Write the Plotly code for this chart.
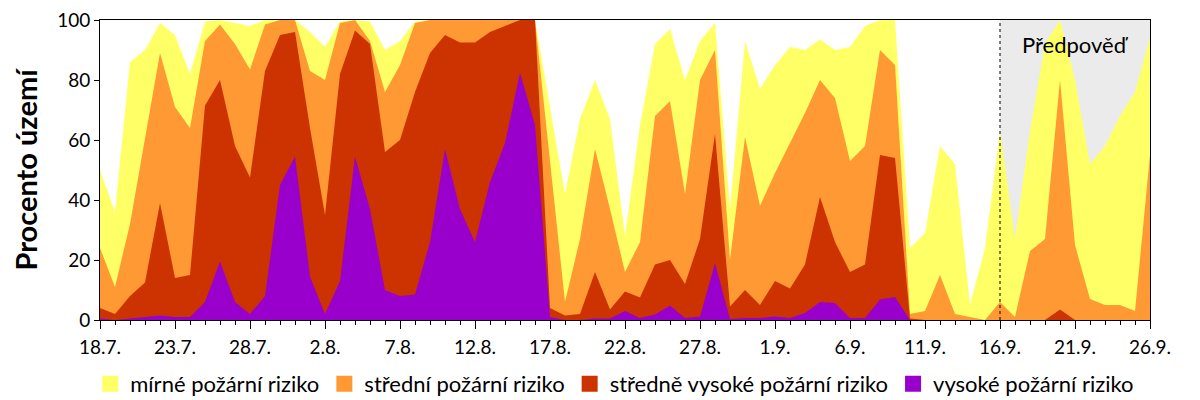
import pandas as pd
import plotly.graph_objects as go

# Daily values, 18.7. - 26.9. (cumulative share of territory, %)
dates = pd.date_range('2015-07-18', '2015-09-26', freq='D')

# at least mild risk (top of the yellow area)
mild_up = [50, 36, 86, 90, 99, 95, 82, 99.5, 100, 99, 98, 100, 100, 100, 96, 91, 99.5, 100,
           99.5, 90, 93, 99.5, 100, 100, 100, 100, 100, 100, 100, 100, 71, 42, 67, 80, 67, 28,
           65, 92, 97, 80, 93, 99, 37, 93, 77, 85, 91, 90, 93.5, 90, 91, 98, 100, 100, 24, 29,
           58, 52, 5, 24, 63, 27, 63, 92, 100, 80, 52, 58, 68, 76, 94]
# at least medium risk (top of the orange area)
medium_up = [24, 11, 32, 61, 89, 71, 64, 93, 98.5, 92, 83.5, 98.5, 100, 100, 83, 80, 99, 100,
             93, 76, 85, 99, 100, 100, 100, 100, 100, 100, 100, 100, 53, 6, 27, 57, 37, 16,
             26, 68, 73, 42, 80, 90, 20, 61, 38, 49, 59, 69, 80, 74, 53, 58, 90, 85, 2, 3,
             15, 2, 1, 0, 6, 1, 23, 27, 80, 25, 7, 5, 5, 3, 55]
# at least medium-high risk (top of the red area)
medhigh_up = [4, 2, 8, 12.5, 39, 14, 15, 71.5, 80, 58, 47.5, 83, 95, 96, 64, 35, 82, 96.5,
              92, 56, 60, 76, 89, 95, 92.5, 92.5, 96, 98, 100, 100, 4, 1.5, 2, 16, 3.5, 9.5,
              7.5, 18.5, 20, 12, 27, 62, 4.5, 10, 5, 13, 10.5, 18.5, 41, 26, 16, 18.5, 55, 54,
              0.5, 0, 0, 0, 0, 0, 0, 0, 0, 0, 3.5, 0, 0, 0, 0, 0, 0]
# high risk (purple area)
high = [0.5, 0, 0.5, 1, 1.5, 1, 1, 6, 19.5, 6, 2, 8, 45, 54.5, 14.5, 2, 13, 54.5, 37, 10,
        8, 8.5, 26, 57, 37, 26, 46, 59, 82.5, 65, 1, 0, 0, 0.5, 0.5, 3, 0.7, 1.8, 4.8, 0.7,
        1.2, 19, 0.3, 0.7, 0.7, 1.2, 0.7, 2.3, 6, 5.7, 0.7, 0.7, 6.8, 7.7, 0, 0, 0, 0, 0, 0,
        0, 0, 0, 0, 0, 0, 0, 0, 0, 0, 0]

names = ['mírné požární riziko', 'střední požární riziko',
         'středně vysoké požární riziko', 'vysoké požární riziko']
colors = ['#FFFF66', '#FF9933', '#CC3300', '#9900CC']
series = [mild_up, medium_up, medhigh_up, high]

y_ticks = [0, 20, 40, 60, 80, 100]
tick_labels = ['18.7.', '23.7.', '28.7.', '2.8.', '7.8.', '12.8.', '17.8.', '22.8.',
               '27.8.', '1.9.', '6.9.', '11.9.', '16.9.', '21.9.', '26.9.']
forecast_from = 60  # 16.9.

FONT = 'Lato'

fig = go.Figure()

# areas drawn from the widest class down, each filled to zero
for name, color, vals in zip(names, colors, series):
    fig.add_trace(go.Scatter(
        x=dates, y=vals, mode='lines', name=name,
        line=dict(width=0, color=color),
        fill='tozeroy', fillcolor=color,
        showlegend=False
    ))

# legend entries with square swatches
for name, color in zip(names, colors):
    fig.add_trace(go.Scatter(
        x=[None], y=[None], mode='markers', name=name,
        marker=dict(symbol='square', size=20, color=color)
    ))

# forecast period background + divider
fig.add_shape(type='rect', xref='x', yref='paper',
              x0=dates[forecast_from], x1=dates[-1], y0=0, y1=1,
              fillcolor='#EBEBEB', line=dict(width=0), layer='below')
fig.add_shape(type='line', xref='x', yref='paper',
              x0=dates[forecast_from], x1=dates[forecast_from], y0=0, y1=1,
              line=dict(color='black', width=1, dash='3px,3px'))
fig.add_annotation(x=dates[65], y=0.97, xref='x', yref='paper', yanchor='top',
                   text='Předpověď', showarrow=False,
                   font=dict(family=FONT, size=22, color='black'))

# page body adds an 8px offset, so the figure is 8px smaller than the window
fig.update_layout(
    width=1192, height=392,
    margin=dict(l=92, r=50, t=12, b=80),
    plot_bgcolor='white', paper_bgcolor='white',
    font=dict(family=FONT, size=19, color='black'),
    showlegend=True,
    legend=dict(orientation='h', xref='container', yref='container',
                x=0.069, xanchor='left', y=0.041, yanchor='middle',
                font=dict(family=FONT, size=22), itemwidth=30),
    xaxis=dict(
        range=[dates[0], dates[-1]],
        tickvals=list(dates[::5]), ticktext=tick_labels,
        ticks='outside', ticklen=8, tickcolor='black', ticklabelstandoff=2,
        ticklabeloverflow='allow',
        minor=dict(dtick=86400000, tick0=dates[0], ticks='outside', ticklen=4,
                   tickcolor='black'),
        showline=True, linecolor='black', linewidth=1, mirror=True,
        showgrid=False, zeroline=False, automargin=False
    ),
    yaxis=dict(
        range=[0, 100], tickvals=y_ticks, ticktext=[str(v) for v in y_ticks],
        ticks='outside', ticklen=5, tickcolor='black',
        ticklabeloverflow='allow',
        showline=True, linecolor='black', linewidth=1, mirror=True,
        showgrid=False, zeroline=False, automargin=False,
        title=dict(text='<b>Procento území</b>', font=dict(family=FONT, size=29),
                   standoff=32)
    )
)

fig.write_html('out.html')
